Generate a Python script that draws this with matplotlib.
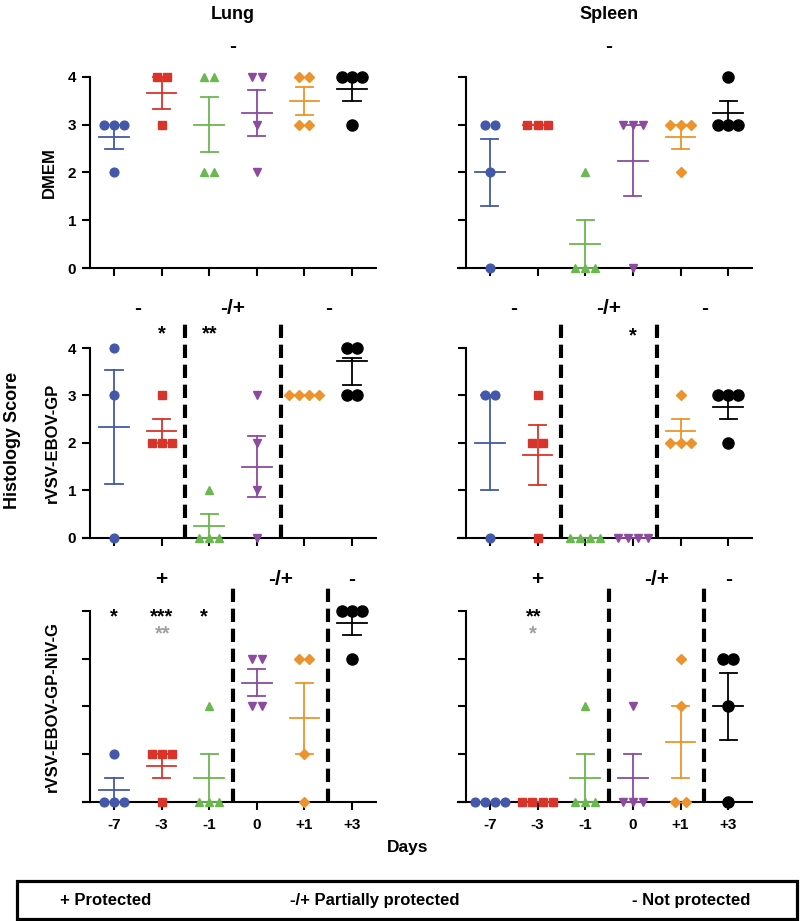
import numpy as np
import matplotlib
matplotlib.use("Agg")
import matplotlib.pyplot as plt
from matplotlib.patches import Rectangle

plt.rcParams['font.family'] = ['Liberation Sans', 'DejaVu Sans']
plt.rcParams['font.weight'] = 'bold'

days = ['-7', '-3', '-1', '0', '+1', '+3']
colors = ['#4358a9', '#d9342a', '#6ab84f', '#8c4b9f', '#ec942b', '#000000']
markers = ['o', 's', '^', 'v', 'D', 'o']
msizes = [6.3, 6.0, 6.3, 6.3, 4.6, 8.0]

# histology scores per group (each list = one day group)
lung_dmem = [[3, 3, 3, 2], [4, 4, 3], [4, 4, 2, 2], [4, 4, 3, 2], [4, 4, 3, 3], [4, 4, 4, 3]]
spleen_dmem = [[3, 3, 2, 0], [3, 3, 3], [2, 0, 0, 0], [3, 3, 3, 0], [3, 3, 3, 2], [4, 3, 3, 3]]
lung_gp = [[4, 3, 0], [3, 2, 2, 2], [1, 0, 0, 0], [3, 2, 1, 0], [3, 3, 3, 3], [4, 4, 3, 3]]
spleen_gp = [[3, 3, 0], [3, 2, 2, 0], [0, 0, 0, 0], [0, 0, 0, 0], [3, 2, 2, 2], [3, 3, 3, 2]]
lung_niv = [[1, 0, 0, 0], [1, 1, 1, 0], [2, 0, 0, 0], [3, 3, 2, 2], [3, 3, 1, 0], [4, 4, 4, 3]]
spleen_niv = [[0, 0, 0, 0], [0, 0, 0, 0], [2, 0, 0, 0], [2, 0, 0, 0], [3, 2, 0, 0], [3, 3, 2, 0]]

# mean line as drawn in the original (lung GP, +3)
mean_override = {(1, 0, 5): 3.73}

row_labels = ['DMEM', 'rVSV-EBOV-GP', 'rVSV-EBOV-GP-NiV-G']
col_titles = ['Lung', 'Spleen']

# protection status labels: (x position, text, y)
prot = {
    (0, 0): [(2.5, '-', 4.63)],
    (0, 1): [(2.5, '-', 4.63)],
    (1, 0): [(0.5, '-', 4.84), (2.5, '-/+', 4.84), (4.5, '-', 4.84)],
    (1, 1): [(0.5, '-', 4.84), (2.5, '-/+', 4.84), (4.5, '-', 4.84)],
    (2, 0): [(1, '+', 4.67), (3.5, '-/+', 4.67), (5, '-', 4.67)],
    (2, 1): [(1, '+', 4.67), (3.5, '-/+', 4.67), (5, '-', 4.67)],
}
dividers = {(1, 0): [1.5, 3.5], (1, 1): [1.5, 3.5],
            (2, 0): [2.5, 4.5], (2, 1): [2.5, 4.5]}
div_top = {1: 4.55, 2: 4.5}
# significance stars: (x, text, y, colour)
stars = {
    (1, 0): [(1, '*', 4.3, 'black'), (2, '**', 4.3, 'black')],
    (1, 1): [(3, '*', 4.25, 'black')],
    (2, 0): [(0, '*', 3.88, 'black'), (1, '***', 3.88, 'black'),
             (1.03, '**', 3.53, '#a0a0a0'), (1.88, '*', 3.88, 'black')],
    (2, 1): [(0.92, '**', 3.88, 'black'), (0.9, '*', 3.53, '#a0a0a0')],
}

data = [[lung_dmem, spleen_dmem], [lung_gp, spleen_gp], [lung_niv, spleen_niv]]

fig = plt.figure(figsize=(8, 9.21), dpi=100)

W = 800.0
H = 921.0
col_x = [(90.25, 375.75), (466.0, 752.0)]
row_y = [(77, 268), (348, 537.7), (611, 801.7)]

for r in range(3):
    for c in range(2):
        x0, x1 = col_x[c]
        yt, yb = row_y[r]
        ax = fig.add_axes([x0 / W, 1 - yb / H, (x1 - x0) / W, (yb - yt) / H])
        ax.set_xlim(-0.5, 5.5)
        ax.set_ylim(0, 4)
        for s in ['top', 'right']:
            ax.spines[s].set_visible(False)
        ax.spines['left'].set_linewidth(1.5)
        ax.spines['bottom'].set_linewidth(1.5)
        ax.spines['bottom'].set_bounds(-0.66, 5.5)
        ax.tick_params(width=1.5, length=6, direction='out')
        ax.set_yticks([0, 1, 2, 3, 4])
        ax.set_xticks(range(6))
        ax.tick_params(axis='y', pad=4, labelsize=11)
        ax.tick_params(axis='x', pad=6, labelsize=11)
        if c == 0 and r < 2:
            ax.set_yticklabels(['0', '1', '2', '3', '4'], fontweight='bold')
        else:
            ax.set_yticklabels([])
        if r == 2:
            ax.set_xticklabels(days, fontweight='bold')
        else:
            ax.set_xticklabels([])

        groups = data[r][c]
        for i, vals in enumerate(groups):
            vals = np.array(vals, dtype=float)
            # spread tied values sideways
            for v in np.unique(vals):
                n = int(np.sum(vals == v))
                offs = (np.arange(n) - (n - 1) / 2) * 0.21
                ax.plot(i + offs, [v] * n, ls='none', marker=markers[i],
                        ms=msizes[i], color=colors[i], mec=colors[i],
                        clip_on=False, zorder=3)
            m = mean_override.get((r, c, i), vals.mean())
            sem = vals.std(ddof=1) / np.sqrt(len(vals))
            mu = vals.mean()
            ax.plot([i - 0.31, i + 0.31], [m, m], color=colors[i], lw=1.3,
                    clip_on=False, zorder=4)
            if sem > 0:
                ax.plot([i, i], [mu - sem, mu + sem], color=colors[i], lw=1.3,
                        clip_on=False, zorder=4)
                for e in [mu - sem, mu + sem]:
                    ax.plot([i - 0.18, i + 0.18], [e, e], color=colors[i],
                            lw=1.3, clip_on=False, zorder=4)

        for xv in dividers.get((r, c), []):
            ax.plot([xv, xv], [0, div_top[r]], color='black', lw=3,
                    dashes=(3.2, 1.6), clip_on=False, zorder=5)
        for xv, t, yv in prot[(r, c)]:
            ax.text(xv, yv, t, ha='center', va='center', fontsize=15,
                    fontweight='bold')
        for xv, t, yv, col in stars.get((r, c), []):
            ax.text(xv, yv, t, ha='center', va='center', fontsize=14.5,
                    fontweight='bold', color=col)

        if r == 0:
            ax.set_title(col_titles[c], fontsize=13, fontweight='bold',
                         pad=0, y=1 + (77 - 11 - 8) / (268 - 77))

# row labels
row_lab_x = [49, 52, 52]
for r in range(3):
    yt, yb = row_y[r]
    fig.text(row_lab_x[r] / W, 1 - (yt + yb) / 2 / H, row_labels[r],
             rotation=90, ha='center', va='center', fontsize=12,
             fontweight='bold')

fig.text(13 / W, 1 - 440 / H, 'Histology Score', rotation=90, ha='center',
         va='center', fontsize=13, fontweight='bold')
fig.text(408 / W, 1 - 847 / H, 'Days', ha='center', va='center',
         fontsize=12.5, fontweight='bold')

# key box at the bottom
fig.patches.append(Rectangle((17 / W, 1 - 919 / H), (797 - 17) / W, 38 / H,
                             transform=fig.transFigure, fill=False,
                             lw=2.3, ec='black'))
key_items = [(60, '+ Protected'), (290, '-/+ Partially protected'),
             (632, '- Not protected')]
for xk, t in key_items:
    fig.text(xk / W, 1 - 900 / H, t, ha='left', va='center', fontsize=12,
             fontweight='bold')

fig.savefig('out.png', dpi=100)
